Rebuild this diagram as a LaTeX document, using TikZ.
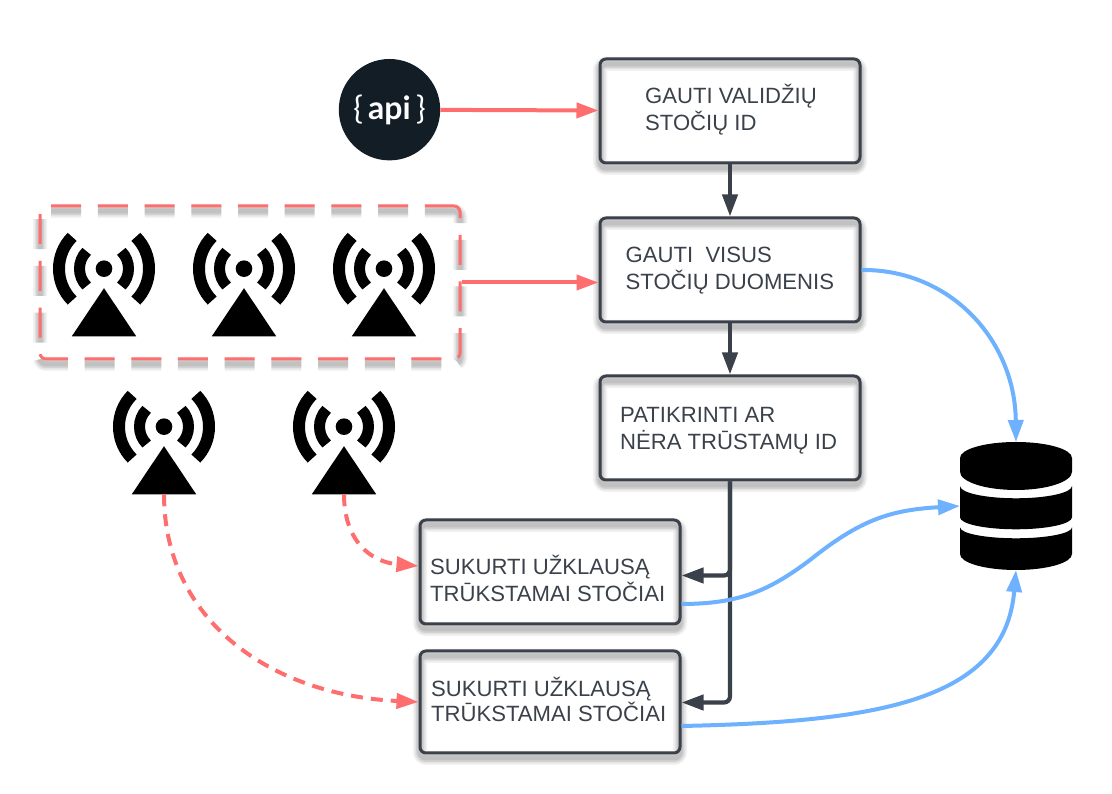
\documentclass[tikz,border=0pt]{standalone}
\usepackage{fontspec}
\setmainfont{Liberation Sans}
\newfontfamily\apifont{Lato}
\usetikzlibrary{arrows.meta}
\definecolor{slate}{HTML}{3A414A}
\definecolor{apiblack}{HTML}{121D26}
\definecolor{salmon}{HTML}{FF6E6E}
\definecolor{skyblue}{HTML}{6DB1FF}
\tikzset{
    >={Triangle[length=22pt,width=15pt]},
    softshadow/.style={
        preaction={draw=black, #1, draw opacity=.05, line width=14pt, transform canvas={yshift=-5pt}},
        preaction={draw=black, #1, draw opacity=.06, line width=11pt, transform canvas={yshift=-5pt}},
        preaction={draw=black, #1, draw opacity=.07, line width=8pt, transform canvas={yshift=-5pt}},
        preaction={draw=black, #1, draw opacity=.08, line width=5pt, transform canvas={yshift=-5pt}}},
    softshadow/.default={solid},
    stepbox/.style={draw=slate, line width=3pt, rounded corners=6pt, softshadow,
        minimum width=260pt, minimum height=104pt},
    steptext/.style={anchor=west, align=left, inner sep=0pt, text=slate,
        font=\fontsize{22.1}{27}\selectfont},
    groupdash/.style={dash pattern=on 30pt off 16.7pt, dash phase=0.8pt},
    groupbox/.style={draw=salmon, line width=3pt, rounded corners=6pt, softshadow={groupdash},
        groupdash, minimum width=420pt, minimum height=153pt},
    darkarrow/.style={->, draw=slate, line width=4.2pt},
    redarrow/.style={->, draw=salmon, line width=4pt},
    reddash/.style={->, draw=salmon, line width=4pt, dash pattern=on 12pt off 8pt},
    bluearrow/.style={->, draw=skyblue, line width=4pt},
    antenna/.pic={
        \fill[black] (0,0) circle (8.3pt);
        \draw[black, line width=12pt] (135:45pt) arc (135:225:45pt);
        \draw[black, line width=12pt] (45:45pt) arc (45:-45:45pt);
        \draw[black, line width=11pt] (135:24.5pt) arc (135:225:24.5pt);
        \draw[black, line width=11pt] (45:24.5pt) arc (45:-45:24.5pt);
        \fill[black] (0,-19.5) -- (32.2,-67.6) -- (-32.2,-67.6) -- cycle;
        \coordinate (-base) at (0,-67.6);
    },
}

\begin{document}
\begin{tikzpicture}[x=1pt,y=1pt]
\path[fill=white,use as bounding box] (0,0) rectangle (1112,794);

%API
\node[circle, fill=apiblack, minimum size=101.4pt, inner sep=0pt, text=white,
    font=\apifont\fontsize{32}{32}\selectfont] (api) at (389.5,684.3) {\{\,\textbf{api}\,\}};

%STEPS
\node[stepbox] (valid) at (730,683) {};
	\node[steptext] (validtext) at (645,684.5) {GAUTI VALIDŽIŲ\\STOČIŲ ID};
\node[stepbox] (all) at (730,524) {};
	\node[steptext] (alltext) at (625.5,523) {GAUTI\ \ VISUS\\STOČIŲ DUOMENIS};
\node[stepbox] (check) at (730,366) {};
	\node[steptext] (checktext) at (620,363.5) {PATIKRINTI AR\\NĖRA TRŪSTAMŲ ID};
\node[stepbox] (reqa) at (550,222) {};
	\node[steptext] (reqatext) at (430,215.5) {SUKURTI UŽKLAUSĄ\\TRŪKSTAMAI STOČIAI};
\node[stepbox, minimum height=102pt] (reqb) at (550,92) {};
	\node[steptext, font=\fontsize{22.1}{25}\selectfont] (reqbtext) at (431,94.5) {SUKURTI UŽKLAUSĄ\\TRŪKSTAMAI STOČIAI};

%STATIONS
\node[groupbox] (group) at (250,511.5) {};
\pic (anta) at (104,525.3) {antenna};
\pic (antb) at (244,525.3) {antenna};
\pic (antc) at (384,525.3) {antenna};
\pic (antd) at (164,367.3) {antenna};
\pic (ante) at (344,367.3) {antenna};

%DATABASE
\node[minimum width=112pt, minimum height=128pt, inner sep=0pt, outer sep=0pt] (db) at (1016,288) {};
\fill[black] (960,336) arc (180:0:56pt and 16pt) -- (1072,322.3) arc (0:-180:56pt and 18.3pt) -- cycle;
\fill[black] (960,308) arc (180:360:56pt and 12.3pt) -- (1072,276.7) arc (0:-180:56pt and 12pt) -- cycle;
\fill[black] (960,266.7) arc (180:360:56pt and 11pt) -- (1072,240) arc (0:-180:56pt and 16pt) -- cycle;

%ARROWS
\draw[redarrow] (api) -- (valid);
\draw[redarrow] (group.east) -- (group.east -| all.west);
\draw[darkarrow] (valid) -- (all);
\draw[darkarrow] (all) -- (check);
\draw[darkarrow, rounded corners=6pt] (check.south) |- ([yshift=-3.5pt]reqa.east);
\draw[darkarrow, rounded corners=6pt] (check.south) |- ([yshift=-0.5pt]reqb.east);

\draw[reddash] (ante-base) .. controls (344,254) and (370,232) .. ([yshift=6pt]reqa.west);
\draw[reddash] (antd-base) .. controls (164,174) and (270,99) .. (reqb.west);

\draw[bluearrow] (all.east) .. controls (950,525) and (1015,454) .. (db.north);
\draw[bluearrow] ([yshift=-32pt]reqa.east) .. controls (740,190) and (770,204) .. (810,234)
    .. controls (860,274) and (890,284) .. (db.west);
\draw[bluearrow] ([yshift=-24pt]reqb.east) .. controls (880,72) and (1005,94) .. (db.south);
\end{tikzpicture}
\end{document}
